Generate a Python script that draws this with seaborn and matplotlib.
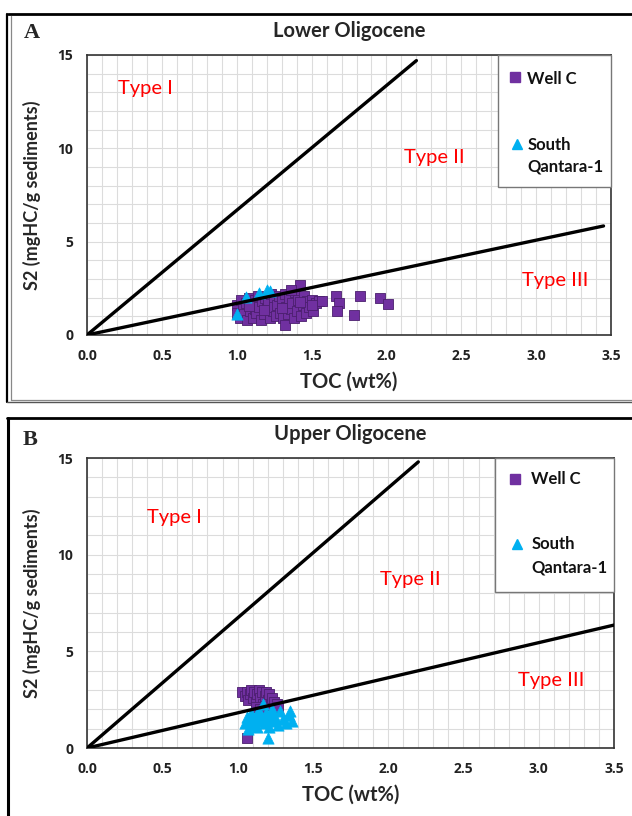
import matplotlib
matplotlib.use("Agg")
import matplotlib.pyplot as plt
from matplotlib.lines import Line2D
from matplotlib.patches import Rectangle
from matplotlib.ticker import MultipleLocator
import numpy as np
import pandas as pd
import seaborn as sns

# ---- Lower Oligocene: Well C ----
lower_wellc_toc = [1.00, 1.00, 1.02, 1.03, 1.04, 1.05, 1.06, 1.07, 1.08, 1.09,
                   1.10, 1.11, 1.12, 1.12, 1.13, 1.14, 1.15, 1.16, 1.17, 1.18,
                   1.19, 1.20, 1.21, 1.22, 1.23, 1.24, 1.25, 1.25, 1.26, 1.27,
                   1.28, 1.29, 1.30, 1.31, 1.32, 1.32, 1.33, 1.34, 1.35, 1.36,
                   1.37, 1.38, 1.39, 1.40, 1.41, 1.42, 1.43, 1.44, 1.45, 1.46,
                   1.47, 1.48, 1.50, 1.51, 1.53, 1.55, 1.57, 1.66, 1.68, 1.67,
                   1.78, 1.82, 1.96, 2.01, 1.08, 1.18, 1.30, 1.42, 1.50, 1.36]
lower_wellc_s2 = [1.60, 1.20, 0.90, 1.90, 1.40, 1.10, 1.70, 0.80, 2.00, 1.30,
                  1.60, 0.90, 1.90, 1.40, 1.20, 2.10, 1.50, 0.80, 1.80, 1.10,
                  2.00, 1.40, 1.70, 0.90, 2.20, 1.30, 1.90, 1.50, 1.00, 1.60,
                  2.10, 1.20, 1.80, 0.90, 2.20, 0.55, 1.50, 1.10, 2.00, 1.40,
                  1.70, 0.90, 2.30, 1.30, 1.90, 2.70, 1.00, 1.60, 2.10, 1.20,
                  1.80, 1.50, 1.90, 1.30, 1.70, 1.80, 1.80, 2.10, 1.70, 1.30,
                  1.05, 2.10, 2.00, 1.65, 1.55, 1.35, 1.45, 1.75, 1.60, 2.40]

# ---- Lower Oligocene: South Qantara-1 ----
lower_sq_toc = [1.00, 1.06, 1.15, 1.20, 1.22]
lower_sq_s2 = [1.15, 2.05, 2.25, 2.40, 2.35]

# ---- Upper Oligocene: Well C ----
upper_wellc_toc = [1.03, 1.05, 1.06, 1.07, 1.08, 1.09, 1.10, 1.11, 1.12, 1.13,
                   1.14, 1.15, 1.16, 1.17, 1.18, 1.19, 1.20, 1.21, 1.22, 1.23,
                   1.24, 1.26, 1.27, 1.12, 1.15, 1.06]
upper_wellc_s2 = [2.90, 2.70, 2.90, 2.50, 2.80, 3.00, 2.60, 2.90, 2.40, 2.80,
                  3.00, 2.60, 2.90, 2.30, 2.70, 2.90, 2.50, 2.80, 2.20, 2.60,
                  2.40, 2.30, 2.10, 2.10, 2.00, 0.52]

# ---- Upper Oligocene: South Qantara-1 ----
upper_sq_toc = [1.05, 1.06, 1.07, 1.08, 1.09, 1.10, 1.11, 1.12, 1.13, 1.14,
                1.15, 1.16, 1.17, 1.18, 1.19, 1.20, 1.21, 1.22, 1.23, 1.24,
                1.25, 1.27, 1.28, 1.30, 1.32, 1.34, 1.35, 1.36, 1.20]
upper_sq_s2 = [1.30, 1.60, 1.00, 1.40, 1.80, 1.20, 1.50, 1.70, 1.10, 1.90,
               1.40, 1.60, 2.30, 1.30, 1.80, 1.50, 1.10, 1.70, 2.00, 1.40,
               1.60, 1.20, 1.90, 1.50, 1.30, 1.70, 1.90, 1.40, 0.52]

# Kerogen-type boundary lines (end point of each line from the origin)
lower_type1_end = (2.20, 14.7)
lower_type3_end = (3.45, 5.84)
upper_type1_end = (2.20, 14.8)
upper_type3_end = (3.50, 6.36)

x_ticks = [0.0, 0.5, 1.0, 1.5, 2.0, 2.5, 3.0, 3.5]
y_ticks = [0, 5, 10, 15]

PURPLE = "#7030A0"
CYAN = "#00B0F0"
RED = "#FF0000"
FONT = ["Lato", "DejaVu Sans"]
TICK_FONT = ["Open Sans", "DejaVu Sans"]

sns.set_style("white")
plt.rcParams["font.family"] = FONT

fig = plt.figure(figsize=(6.32, 8.16), dpi=100)


def frame_df(toc, s2, well):
    return pd.DataFrame({"TOC": toc, "S2": s2, "Well": well})


def draw_panel(ax, wellc, sq, t1_end, t3_end, title, labels, legend_box):
    sns.scatterplot(data=wellc, x="TOC", y="S2", marker="s", s=55,
                    color=PURPLE, edgecolor="#4b1f6e", linewidth=0.6,
                    ax=ax, zorder=3, legend=False)
    sns.scatterplot(data=sq, x="TOC", y="S2", marker="^", s=66,
                    color=CYAN, edgecolor=CYAN, linewidth=0.5,
                    ax=ax, zorder=4, legend=False)
    sns.lineplot(x=[0, t1_end[0]], y=[0, t1_end[1]], color="black",
                 linewidth=2.4, ax=ax, zorder=5)
    sns.lineplot(x=[0, t3_end[0]], y=[0, t3_end[1]], color="black",
                 linewidth=2.4, ax=ax, zorder=5)

    ax.set_xlim(0, 3.5)
    ax.set_ylim(0, 15)
    ax.xaxis.set_minor_locator(MultipleLocator(0.1))
    ax.yaxis.set_minor_locator(MultipleLocator(1))
    ax.set_xticks(x_ticks)
    ax.set_xticklabels([f"{v:.1f}" for v in x_ticks], fontweight="bold",
                       fontsize=10, color="#222222", family=TICK_FONT)
    ax.set_yticks(y_ticks)
    ax.set_yticklabels([str(v) for v in y_ticks], fontweight="bold",
                       fontsize=10, color="#222222", family=TICK_FONT)
    ax.grid(True, which="both", color="#dcdcdc", linewidth=0.8, zorder=0)
    ax.set_axisbelow(True)
    ax.tick_params(axis="both", which="both", direction="out", color="#999999")
    ax.tick_params(axis="both", which="major", length=4, width=0.8, pad=6)
    ax.tick_params(axis="x", which="minor", length=3, width=0.6)
    ax.tick_params(axis="y", which="minor", length=3, width=0.6)
    for sp in ax.spines.values():
        sp.set_color("#333333")
        sp.set_linewidth(1.2)
        sp.set_visible(True)

    ax.set_xlabel("TOC (wt%)", fontsize=14.5, fontweight="bold", labelpad=6)
    ax.set_ylabel("S2 (mgHC/g sediments)", fontsize=13, fontweight="bold",
                  labelpad=12)
    ax.set_title(title, fontsize=14.5, fontweight="bold", pad=13)

    for (tx, ty, txt) in labels:
        ax.text(tx, ty, txt, color=RED, fontsize=14.5, ha="center",
                va="center", zorder=6)

    # legend box drawn in axes coordinates
    (bx0, by0, sqx, sqy, trx, try_, txx, l1y, l2y, l3y) = legend_box
    ax.add_patch(Rectangle((bx0, by0), 1.0 - bx0, 1.0 - by0,
                           transform=ax.transAxes, facecolor="white",
                           edgecolor="#777777", linewidth=1.0, zorder=7,
                           clip_on=False))
    ax.plot([sqx], [sqy], marker="s", markersize=7.5, color=PURPLE,
            transform=ax.transAxes, zorder=8, clip_on=False, linestyle="none")
    ax.plot([trx], [try_], marker="^", markersize=7.5, color=CYAN,
            transform=ax.transAxes, zorder=8, clip_on=False, linestyle="none")
    for yy, txt in ((l1y, "Well C"), (l2y, "South"), (l3y, "Qantara-1")):
        ax.text(txx, yy, txt, transform=ax.transAxes, fontsize=12,
                fontweight="bold", ha="left", va="center", zorder=8,
                color="#111111")


ax_a = fig.add_axes([0.1377, 0.5895, 0.8291, 0.3431])
draw_panel(ax_a, frame_df(lower_wellc_toc, lower_wellc_s2, "Well C"),
           frame_df(lower_sq_toc, lower_sq_s2, "South Qantara-1"),
           lower_type1_end, lower_type3_end, "Lower Oligocene",
           [(0.39, 13.2, "Type I"), (2.32, 9.5, "Type II"),
            (3.13, 2.9, "Type III")],
           (0.784, 0.529, 0.817, 0.921, 0.821, 0.682, 0.840, 0.914, 0.679,
            0.600))

ax_b = fig.add_axes([0.1377, 0.0833, 0.8339, 0.3554])
draw_panel(ax_b, frame_df(upper_wellc_toc, upper_wellc_s2, "Well C"),
           frame_df(upper_sq_toc, upper_sq_s2, "South Qantara-1"),
           upper_type1_end, upper_type3_end, "Upper Oligocene",
           [(0.58, 11.9, "Type I"), (2.15, 8.7, "Type II"),
            (3.08, 3.5, "Type III")],
           (0.774, 0.538, 0.812, 0.928, 0.816, 0.703, 0.843, 0.928, 0.703,
            0.621))

# panel letters
fig.text(32 / 632, 1 - 33 / 816, "A", fontsize=16, fontweight="bold",
         family=["Liberation Serif", "DejaVu Serif"], ha="center", va="center")
fig.text(30 / 632, 1 - 440 / 816, "B", fontsize=16, fontweight="bold",
         family=["Liberation Serif", "DejaVu Serif"], ha="center", va="center")


def fline(x0, y0, x1, y1, color, lw):
    fig.add_artist(Line2D([x0 / 632, x1 / 632], [1 - y0 / 816, 1 - y1 / 816],
                          color=color, linewidth=lw,
                          transform=fig.transFigure))


# panel frames
fline(8, 14, 632, 14, "black", 2.0)
fline(7, 14, 7, 402, "black", 1.6)
fline(11, 16, 11, 400, "#888888", 0.9)
fline(11, 400, 632, 400, "#888888", 0.9)
fline(7, 402, 632, 402, "#555555", 1.0)
fline(7, 418, 632, 418, "black", 2.0)
fline(8, 418, 8, 816, "black", 2.2)

fig.savefig("out.png", dpi=100)
